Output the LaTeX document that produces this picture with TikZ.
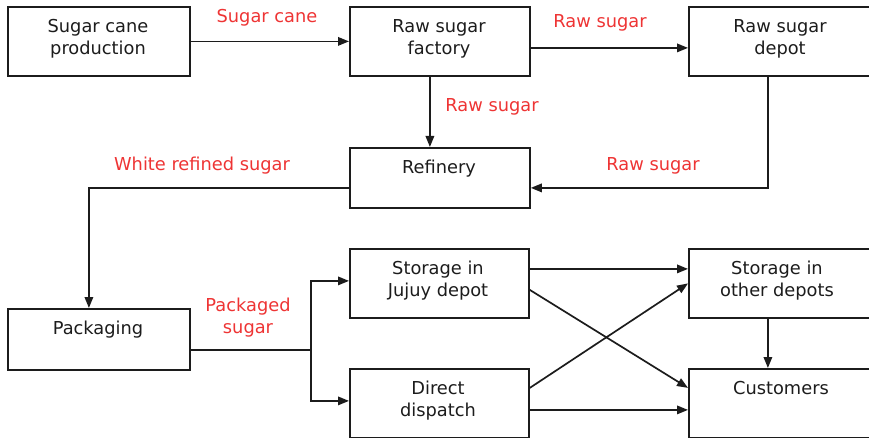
\documentclass[tikz,border=0pt]{standalone}
\usepackage{fontspec}
\setmainfont{DejaVu Sans}
\usetikzlibrary{arrows.meta}
\definecolor{ink}{RGB}{28,28,28}
\definecolor{flowred}{RGB}{238,52,52}
\begin{document}
\begin{tikzpicture}[x=1pt,y=-1pt,
  box/.style={draw=ink, line width=1.8pt, inner sep=0pt, anchor=north west},
  txt/.style={font=\fontsize{17.8}{22}\selectfont, text=ink, align=center, inner sep=0pt, anchor=north},
  lbl/.style={font=\fontsize{17.8}{22}\selectfont, text=flowred, align=center, inner sep=0pt},
  wire/.style={draw=ink, line width=1.7pt},
  flow/.style={wire, -{Triangle[length=11pt,width=8.5pt]}}
]
\path[use as bounding box] (0,0) rectangle (869,438);
\clip (0,0) rectangle (869,438);

% boxes
\node[box, minimum width=182pt, minimum height=69pt] (scp)  at (7,6)     {};
\node[box, minimum width=180pt, minimum height=69pt] (fac)  at (349,6)   {};
\node[box, minimum width=184pt, minimum height=69pt] (dep)  at (688,6)   {};
\node[box, minimum width=180pt, minimum height=60pt] (ref)  at (349,147) {};
\node[box, minimum width=182pt, minimum height=61pt] (pack) at (7,308)   {};
\node[box, minimum width=179pt, minimum height=69pt] (juj)  at (349,248) {};
\node[box, minimum width=184pt, minimum height=69pt] (oth)  at (688,248) {};
\node[box, minimum width=179pt, minimum height=69pt] (dir)  at (349,368) {};
\node[box, minimum width=184pt, minimum height=69pt] (cus)  at (688,368) {};

% box texts, set near the top of each box
\node[txt] (tscp)  at (98,19)   {Sugar cane\\production};
\node[txt] (tfac)  at (439,19)  {Raw sugar\\factory};
\node[txt] (tdep)  at (780,19)  {Raw sugar\\depot};
\node[txt] (tref)  at (439,160) {Refinery};
\node[txt] (tpack) at (98,321)  {Packaging};
\node[txt] (tjuj)  at (438,261) {Storage in\\Jujuy depot};
\node[txt] (toth)  at (777,261) {Storage in\\other depots};
\node[txt] (tdir)  at (438,381) {Direct\\dispatch};
\node[txt] (tcus)  at (781,381) {Customers};

% flows
\draw[flow] (scp.east) -- (scp.east -| fac.west);
\draw[flow] ([yshift=-6.5pt]fac.east) coordinate (a1) -- (a1 -| dep.west);
\draw[flow] ([xshift=-10pt]fac.south) coordinate (a2) -- (a2 |- ref.north);
\draw[flow] ([xshift=-13pt]dep.south) |- ([yshift=-10pt]ref.east);
\draw[flow] ([yshift=-10pt]ref.west) -| ([xshift=-10pt]pack.north);
\draw[wire] ([yshift=-10.5pt]pack.east) -- ++(120,0) coordinate (split);
\draw[flow] (split) |- ([yshift=2.5pt]juj.west);
\draw[flow] (split) |- ([yshift=2.5pt]dir.west);
\draw[flow] ([yshift=14.5pt]juj.east) coordinate (a3) -- (a3 -| oth.west);
\draw[flow] ([yshift=-6.5pt]juj.east) -- ([yshift=15.5pt]cus.west);
\draw[flow] ([yshift=15.5pt]dir.east) -- (oth.west);
\draw[flow] ([yshift=-6.5pt]dir.east) coordinate (a4) -- (a4 -| cus.west);
\draw[flow] ([xshift=-13pt]oth.south) coordinate (a5) -- (a5 |- cus.north);

% flow labels
\node[lbl] (l1) at (267,18)  {Sugar cane};
\node[lbl] (l2) at (600,23)  {Raw sugar};
\node[lbl] (l3) at (492,107) {Raw sugar};
\node[lbl] (l4) at (653,166) {Raw sugar};
\node[lbl] (l5) at (202,166) {White refined sugar};
\node[lbl] (l6) at (248,318) {Packaged\\sugar};
\end{tikzpicture}
\end{document}
